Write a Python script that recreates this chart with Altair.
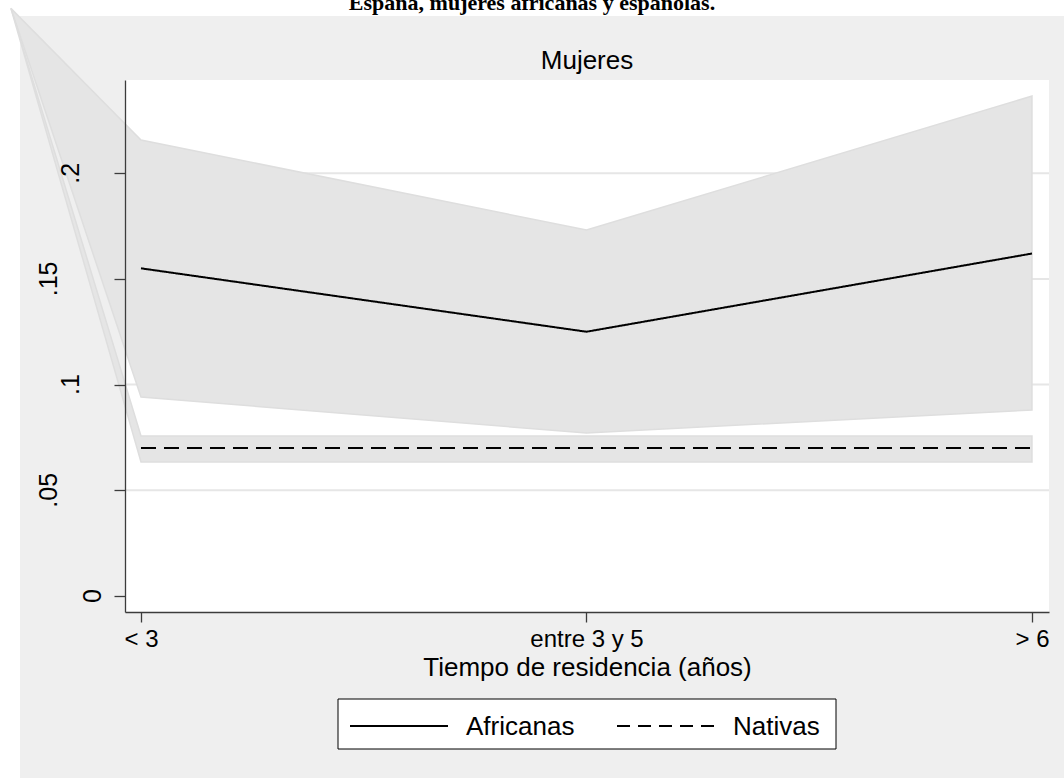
import altair as alt
import pandas as pd

# Residence-time groups on the x axis (positions 0, 1, 2)
groups = ["< 3", "entre 3 y 5", "> 6"]
group_pos = [0, 1, 2]

# Predicted probability and confidence band, African women
afr_mean = [0.155, 0.125, 0.162]
afr_upper = [0.2157, 0.1731, 0.2365]
afr_lower = [0.0941, 0.0771, 0.0880]

# Native (Spanish) women: flat level and band
nat_mean = [0.070, 0.070, 0.070]
nat_upper = [0.0757, 0.0757, 0.0757]
nat_lower = [0.0634, 0.0634, 0.0634]

# Stray vertex that both band polygons start from
band_origin_x = -0.292
band_origin_y = 0.278

series = ["Africanas", "Nativas"]
series_dash = [[1, 0], [15, 8]]
legend_dash = [[1, 0], [13, 8]]

y_ticks = [0, 0.05, 0.1, 0.15, 0.2]
y_tick_labels = ["0", ".05", ".1", ".15", ".2"]

headline = "España, mujeres africanas y españolas."
panel_title = "Mujeres"
x_title = "Tiempo de residencia (años)"

FONT = "Liberation Sans"
TXT = 26
BAND_FILL = "#e5e5e5"
BAND_EDGE = "#dedede"
AXIS_COLOR = "#3c3c3c"

W, H = 924, 532
xs = alt.Scale(domain=[-0.0359, 2.0382], nice=False, zero=False)
ys = alt.Scale(domain=[-0.0076, 0.2441], nice=False, zero=False)

label_expr = "[" + ",".join("'" + g + "'" for g in groups) + "][datum.value]"

x_axis = alt.Axis(
    values=group_pos, labelExpr=label_expr, tickSize=10, labelPadding=5,
    labelFont=FONT, labelFontSize=24, labelColor="black", labelFlush=False,
    labelOverlap=False, labelBound=False, title=x_title, titleFont=FONT,
    titleFontSize=TXT, titleFontWeight="normal", titleColor="black",
    titlePadding=3, domainColor=AXIS_COLOR, tickColor=AXIS_COLOR,
    domainWidth=1.3, tickWidth=1.3, grid=False, zindex=1,
)
y_axis = alt.Axis(
    values=y_ticks, labels=False, tickSize=11, domainColor=AXIS_COLOR,
    tickColor=AXIS_COLOR, domainWidth=1.3, tickWidth=1.3, grid=False,
    title=None, zindex=1,
)


def X(field):
    return alt.X(field, scale=xs, axis=x_axis, title=x_title)


def Y(field):
    return alt.Y(field, scale=ys, axis=y_axis, title=None)


def band_frame(upper, lower):
    rows = [{"x": band_origin_x, "upper": band_origin_y, "lower": band_origin_y}]
    for p, u, l in zip(group_pos, upper, lower):
        rows.append({"x": p, "upper": u, "lower": l})
    return pd.DataFrame(rows)


line_rows = []
for name, vals in zip(series, [afr_mean, nat_mean]):
    for p, v in zip(group_pos, vals):
        line_rows.append({"x": p, "mean": v, "series": name})
lines_df = pd.DataFrame(line_rows)

one = pd.DataFrame({"k": [0]})

# White margin strips (top and left) outside the grey panel
top_strip = alt.Chart(one).mark_rect(color="white").encode(
    x=alt.value(-125), x2=alt.value(W + 15), y=alt.value(-80), y2=alt.value(-64)
)
left_strip = alt.Chart(one).mark_rect(color="white").encode(
    x=alt.value(-125), x2=alt.value(-105), y=alt.value(-80), y2=alt.value(H + 166)
)

headline_text = alt.Chart(pd.DataFrame({"t": [headline]})).mark_text(
    font="Liberation Serif", fontWeight="bold", fontSize=22, align="center",
    baseline="alphabetic", color="black"
).encode(x=alt.value(407), y=alt.value(-70), text="t:N")

panel_title_text = alt.Chart(pd.DataFrame({"t": [panel_title]})).mark_text(
    font=FONT, fontSize=26, align="center", baseline="alphabetic", color="black"
).encode(x=alt.value(W / 2), y=alt.value(-11), text="t:N")

grid = alt.Chart(pd.DataFrame({"upper": [t for t in y_ticks if t > 0]})).mark_rule(
    color="#e6e6e6", strokeWidth=2
).encode(y=Y("upper:Q"))

afr_band = alt.Chart(band_frame(afr_upper, afr_lower)).mark_area(
    color=BAND_FILL, stroke=BAND_EDGE, strokeWidth=1.5, opacity=1
).encode(x=X("x:Q"), y=Y("upper:Q"), y2="lower:Q")

nat_band = alt.Chart(band_frame(nat_upper, nat_lower)).mark_area(
    color=BAND_FILL, stroke=BAND_EDGE, strokeWidth=1.5, opacity=1
).encode(x=X("x:Q"), y=Y("upper:Q"), y2="lower:Q")

mean_lines = alt.Chart(lines_df).mark_line(color="black", strokeWidth=2).encode(
    x=X("x:Q"),
    y=Y("mean:Q"),
    detail="series:N",
    strokeDash=alt.StrokeDash("series:N", scale=alt.Scale(domain=series, range=series_dash), legend=None),
)

# Vertical y tick labels, staggered by label length
ylab_df = pd.DataFrame({"upper": y_ticks, "label": y_tick_labels})
ylabel_layers = []
for n in (1, 2, 3):
    ylabel_layers.append(
        alt.Chart(ylab_df).transform_filter(f"length(datum.label) == {n}").mark_text(
            font=FONT, fontSize=25, angle=270, align="center", baseline="middle", color="black"
        ).encode(
            x=alt.value(-10 - 22 * n),
            y=Y("upper:Q"),
            text="label:N",
        )
    )

# Legend box drawn below the axis title
legend_box = alt.Chart(one).mark_rect(fill="white", stroke="black", strokeWidth=1).encode(
    x=alt.value(213), x2=alt.value(711), y=alt.value(619), y2=alt.value(669)
)
legend_layers = [legend_box]
for i, (name, dash) in enumerate(zip(series, legend_dash)):
    left = 225 + i * 267
    item = pd.DataFrame({"name": [name]})
    legend_layers.append(
        alt.Chart(item).mark_rule(color="black", strokeWidth=2, strokeDash=dash).encode(
            x=alt.value(left), x2=alt.value(left + 98), y=alt.value(646)
        )
    )
    legend_layers.append(
        alt.Chart(item).mark_text(
            font=FONT, fontSize=TXT, align="left", baseline="middle", color="black"
        ).encode(x=alt.value(left + 116), y=alt.value(647), text="name:N")
    )

chart = alt.layer(
    top_strip, left_strip, headline_text, panel_title_text, grid, afr_band, nat_band,
    mean_lines, *ylabel_layers, *legend_layers,
).properties(
    width=W, height=H,
    autosize=alt.AutoSizeParams(type="none"),
    padding={"left": 125, "top": 80, "right": 15, "bottom": 166},
    background="#efefef",
).configure_view(fill="white", strokeWidth=0)

chart.save("out.html", embed_options={"renderer": "svg", "actions": False})
